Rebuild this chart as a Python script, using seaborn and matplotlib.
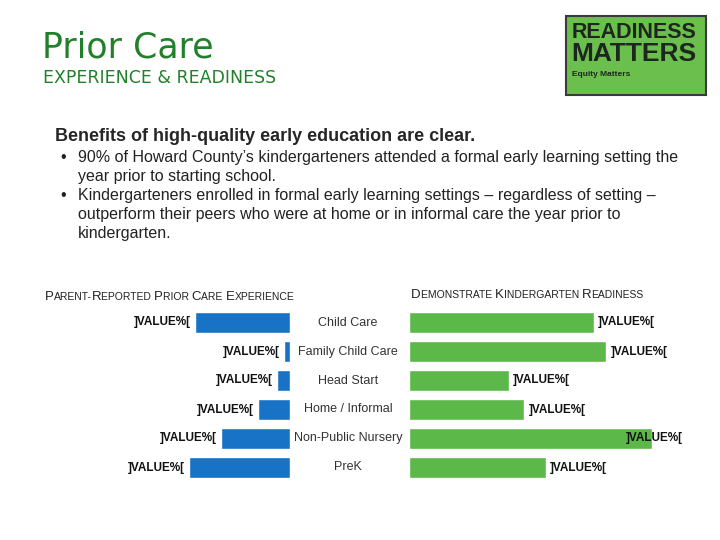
import matplotlib
matplotlib.use("Agg")
import pandas as pd
import matplotlib.pyplot as plt
import matplotlib.patches as patches
import matplotlib.transforms as mtransforms
from matplotlib.offsetbox import TextArea, HPacker, AnnotationBbox
import seaborn as sns

# data
categories = ["Child Care", "Family Child Care", "Head Start",
              "Home / Informal", "Non-Public Nursery", "PreK"]
prior_care_pct = [30, 2, 4, 10, 22, 32]
readiness_pct = [61, 65, 33, 38, 80, 45]
prior_labels = ["]VALUE%["] * 6
readiness_labels = ["]VALUE%["] * 6

heading = "Benefits of high-quality early education are clear."
bullet_lines = [
    ["90% of Howard County\u2019s kindergarteners attended a formal early learning setting the",
     "year prior to starting school."],
    ["Kindergarteners enrolled in formal early learning settings \u2013 regardless of setting \u2013",
     "outperform their peers who were at home or in informal care the year prior to",
     "kindergarten."],
]

blue = "#1873c6"
green = "#5cb949"
title_green = "#22802a"

sns.set_style("white")
plt.rcParams["font.family"] = ["Liberation Sans", "DejaVu Sans"]

W, H = 720, 540
fig = plt.figure(figsize=(7.2, 5.4), dpi=100)


def fx(px):
    return px / W


def fy(py):
    return 1 - py / H


# title block
fig.text(fx(42), fy(58), "Prior Care", fontsize=25, color=title_green,
         family="DejaVu Sans", va="baseline")
fig.text(fx(43), fy(83), "EXPERIENCE & READINESS", fontsize=12.5, color=title_green,
         family="DejaVu Sans", va="baseline")

# logo box
fig.patches.append(patches.Rectangle((fx(566), fy(95)), 140 / W, 79 / H,
                                     transform=fig.transFigure, facecolor="#6bbf4c",
                                     edgecolor="#3a3a3a", lw=1.5))
fig.text(fx(572), fy(38), "READINESS", fontsize=15.5, fontweight="bold",
         color="#1e2620", va="baseline")
fig.text(fx(571), fy(61), "MATTERS", fontsize=19, fontweight="bold",
         color="#1e2620", va="baseline")
fig.text(fx(572), fy(76), "Equity Matters", fontsize=6, fontweight="bold",
         color="#1e2620", va="baseline")

# text block
fig.text(fx(55), fy(141), heading, fontsize=13, fontweight="bold", va="baseline")
y = 162
for lines in bullet_lines:
    fig.text(fx(60), fy(y), "\u2022", fontsize=11.5, va="baseline", color="#222222")
    for line in lines:
        fig.text(fx(78), fy(y), line, fontsize=11.5, va="baseline", color="#222222")
        y += 19


def small_caps(x, y, text, big=9.5, small=7.5):
    parts = []
    start = True
    for ch in text:
        if start and ch.isalpha():
            parts.append((ch, big))
            start = False
        else:
            if parts and parts[-1][1] == small:
                parts[-1] = (parts[-1][0] + ch.upper(), small)
            else:
                parts.append((ch.upper(), small))
            if ch in " -":
                start = True
    boxes = [TextArea(t, textprops=dict(fontsize=s, color="#222222")) for t, s in parts]
    pack = HPacker(children=boxes, align="baseline", pad=0, sep=0)
    ab = AnnotationBbox(pack, (fx(x), fy(y)), xycoords="figure fraction",
                        box_alignment=(0, 0), frameon=False, pad=0)
    fig.add_artist(ab)


small_caps(45, 303, "Parent-Reported Prior Care Experience")
small_caps(411, 301, "Demonstrate Kindergarten Readiness")

df = pd.DataFrame({"category": categories, "prior": prior_care_pct,
                   "ready": readiness_pct})

ax_l = fig.add_axes([fx(186), 58 / H, 104 / W, 174 / H])
ax_r = fig.add_axes([fx(409), 58 / H, 258 / W, 174 / H])

sns.barplot(data=df, x="prior", y="category", ax=ax_l, color=blue,
            width=0.7, orient="h", saturation=1)
sns.barplot(data=df, x="ready", y="category", ax=ax_r, color=green,
            width=0.7, orient="h", saturation=1)

ax_l.set_xlim(33, 0)
ax_r.set_xlim(0, 85)
for ax in (ax_l, ax_r):
    ax.set_ylim(len(categories) - 0.5, -0.5)
    ax.set_axis_off()

lab_font = dict(fontsize=8.5, fontweight="bold", color="#111111")
ax_l.bar_label(ax_l.containers[0], labels=prior_labels, padding=3, **lab_font)
r_texts = ax_r.bar_label(ax_r.containers[0], labels=readiness_labels,
                         padding=3, **lab_font)
# the longest green bar has its label pulled back over the bar end, as on the slide
r_texts[4].xyann = (-19, 0)

trans = mtransforms.blended_transform_factory(fig.transFigure, ax_r.transData)
for i, cat in enumerate(categories):
    ax_r.text(fx(348), i, cat, transform=trans, ha="center", va="center",
              fontsize=9, color="#333333")

fig.savefig("out.png", dpi=100)
